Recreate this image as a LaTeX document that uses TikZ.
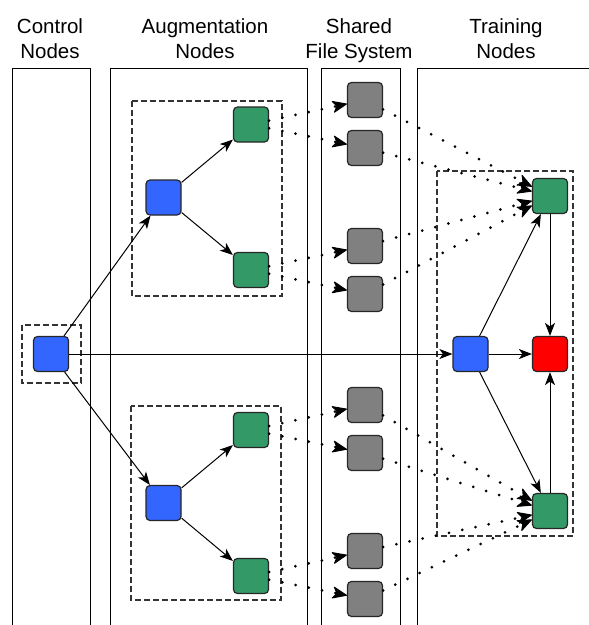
\documentclass[tikz,border=0pt]{standalone}
\usepackage{fontspec}
\setmainfont{Liberation Sans}
\usetikzlibrary{arrows.meta}

\definecolor{nodeblue}{RGB}{51,102,255}
\definecolor{nodegreen}{RGB}{51,153,102}
\definecolor{nodegrey}{RGB}{128,128,128}
\definecolor{nodered}{RGB}{255,0,0}

\begin{document}
\begin{tikzpicture}[x=1pt,y=-1pt,
    box/.style={draw=black!85, line width=1.2pt, rounded corners=4pt,
      minimum width=35pt, minimum height=35pt, inner sep=0pt},
    lane/.style={line width=0.9pt},
    grpbox/.style={draw=black!80, dash pattern=on 6pt off 3pt, line width=1.1pt},
    conn/.style={line width=1pt, -{Stealth[length=13pt,width=10pt,inset=3.5pt]}},
    dots/.style={line width=3pt, line cap=round, dash pattern=on 0pt off 13.5pt,
      -{Stealth[length=16pt,width=13pt,inset=4.5pt,line width=1pt,round]}},
    head/.style={align=center, font=\fontsize{20.5}{25}\selectfont, inner sep=0pt, anchor=north}]
        \path[use as bounding box, clip] (0,0) rectangle (589,625);

        % column headers
        \node[head] (hctl) at (50,18.2) {Control\\Nodes};
        \node[head] (haug) at (205,18.2) {Augmentation\\Nodes};
        \node[head] (hfs) at (359,18.2) {Shared\\File System};
        \node[head] (htrn) at (506,18.2) {Training\\Nodes};

        % lanes
        \draw[lane] (12,640) -- (12,68) -- (90,68) -- (90,640);
        \draw[lane] (110,640) -- (110,68) -- (307,68) -- (307,640);
        \draw[lane] (321,640) -- (321,68) -- (400,68) -- (400,640);
        \draw[lane] (417,640) -- (417,68) -- (600,68);

        % groups
        \draw[grpbox] (22,325) rectangle (81,383);
        \draw[grpbox] (132,101) rectangle (282,296);
        \draw[grpbox] (131,406) rectangle (281,600);
        \draw[grpbox] (437,171) rectangle (573,536);

        \node[box, fill=nodeblue] (ctl) at (51,354) {};
        \node[box, fill=nodeblue] (aug1) at (163.5,197.5) {};
        \node[box, fill=nodegreen] (aug1a) at (251,124.5) {};
        \node[box, fill=nodegreen] (aug1b) at (251,270) {};
        \node[box, fill=nodeblue] (aug2) at (163.5,503) {};
        \node[box, fill=nodegreen] (aug2a) at (251,430) {};
        \node[box, fill=nodegreen] (aug2b) at (251,576) {};
        \node[box, fill=nodegrey] (fs1) at (365,100) {};
        \node[box, fill=nodegrey] (fs2) at (365,148) {};
        \node[box, fill=nodegrey] (fs3) at (365,246) {};
        \node[box, fill=nodegrey] (fs4) at (365,294) {};
        \node[box, fill=nodegrey] (fs5) at (365,405) {};
        \node[box, fill=nodegrey] (fs6) at (365,453) {};
        \node[box, fill=nodegrey] (fs7) at (365,551) {};
        \node[box, fill=nodegrey] (fs8) at (365,599) {};
        \node[box, fill=nodeblue] (trn) at (470.5,354) {};
        \node[box, fill=nodegreen] (trna) at (550,196) {};
        \node[box, fill=nodered] (trnr) at (550,354) {};
        \node[box, fill=nodegreen] (trnb) at (550,511) {};

        \draw[conn] (ctl) edge (aug1)
              (ctl) edge (aug2)
              (ctl) edge (trn);
        \draw[conn] (aug1) edge (aug1a)
              (aug1) edge (aug1b)
              (aug2) edge (aug2a)
              (aug2) edge (aug2b);
        \draw[conn] (trn) edge (trna)
              (trn) edge (trnr)
              (trn) edge (trnb)
              (trna) edge (trnr)
              (trnb) edge (trnr);
        \draw[dots] (aug1a) edge (fs1)
              (aug1a) edge (fs2)
              (aug1b) edge (fs3)
              (aug1b) edge (fs4)
              (aug2a) edge (fs5)
              (aug2a) edge (fs6)
              (aug2b) edge (fs7)
              (aug2b) edge (fs8);
        \draw[dots] (fs1) edge (trna)
              (fs2) edge (trna)
              (fs3) edge (trna)
              (fs4) edge (trna)
              (fs5) edge (trnb)
              (fs6) edge (trnb)
              (fs7) edge (trnb)
              (fs8) edge (trnb);
      \end{tikzpicture}
\end{document}
